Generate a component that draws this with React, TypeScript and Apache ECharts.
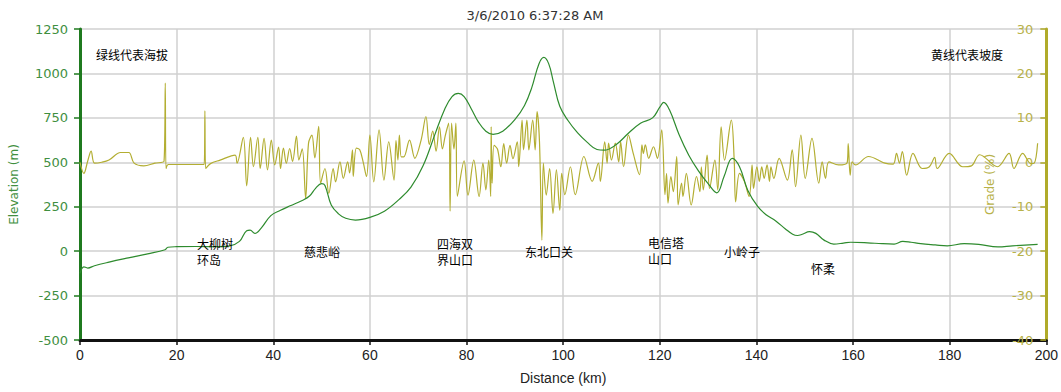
import React, { useEffect, useRef } from "react";
import * as echarts from "echarts";

const chartTitle = "3/6/2010 6:37:28 AM";
const xName = "Distance (km)";
const leftName = "Elevation (m)";
const rightName = "Grade (%)";

// Elevation profile [km, m]
const elevation: [number, number][] = [
  [0, -125], [0.8, -88], [1.6, -95], [3, -82], [6, -62], [10, -38], [14, -15], [17.6, 8], [18.2, 22],
  [20, 25], [24, 26], [28, 25], [31, 30], [33, 55], [34.5, 115], [35.2, 118], [36.2, 100], [37.5, 130],
  [39.5, 200], [41.5, 230], [43.5, 255], [46, 285], [47.5, 310], [48.8, 355], [50, 380], [50.7, 370],
  [52, 260], [53.5, 210], [55, 185], [57, 175], [60, 190], [63, 225], [66, 290], [68.5, 360], [71, 480],
  [73.5, 660], [75.5, 800], [77, 870], [78.3, 888], [79.5, 870], [81, 800], [82.5, 725], [84, 675],
  [85.5, 657], [87.5, 675], [90, 740], [92, 820], [93.5, 920], [95, 1055], [96, 1090], [97, 1055],
  [98, 950], [99.3, 815], [101, 735], [103, 665], [105, 612], [107, 572], [108.5, 568], [111, 600],
  [113.5, 663], [116, 720], [118.5, 750], [120, 810], [120.8, 837], [122, 795], [124, 655], [126, 540],
  [128, 452], [130, 380], [131.8, 328], [133.3, 420], [135, 522], [136.5, 475], [138.2, 343], [140.3, 250],
  [142, 205], [144, 170], [146, 125], [147.5, 95], [148.5, 88], [149.5, 95], [151, 110], [152.3, 100],
  [154, 62], [156, 40], [158, 45], [159.5, 50], [163, 47], [166, 42], [168.5, 40], [170.3, 55], [172, 50],
  [174, 42], [177, 35], [179.5, 30], [183, 42], [186, 38], [190, 24], [193, 30], [198.2, 38],
];

// Grade [km, %]
const grade: [number, number][] = [
  [0, 0], [0.8, -2.5], [1.6, 0.3], [2.3, 2.5], [3, -0.2], [4.5, 0], [6, 0.5], [8.4, 2.2], [10.1, 2.2],
  [11.2, -0.2], [13.2, -0.8], [15.5, -0.2], [17.4, 0.3], [17.65, 17.8], [17.8, -1.4], [18.3, -0.5],
  [22, -0.5], [25.7, -0.5], [25.85, 11.6], [26.0, -1.4], [27, -0.3], [29, 0.5], [32.1, 1.6], [32.5, -0.2],
  [33.8, 5.6], [34.5, -5.3], [35.3, 5.6], [35.9, -1], [36.8, 5.6], [37.3, -1.4], [38.1, 5.4], [38.8, -1.7],
  [39.6, 5.0], [40.3, -0.6], [41.1, 3.4], [41.5, -1.4], [42.1, 3.2], [42.7, -0.2], [43.4, 3.1], [44, 0.2],
  [44.8, 5.9], [45.3, 0.5], [46.0, 3.0], [46.7, -8.1], [47.3, 4.3], [48.0, 6.1], [48.6, 1.0], [49.4, 8.1],
  [49.8, -4.7], [50.7, -1.4], [51.5, -7], [52.4, -1.4], [52.9, -4.4], [53.8, 0.1], [54.5, -3.6], [55.4, 0.1],
  [55.8, -2.4], [56.4, 2.8], [56.55, -3.2], [57.2, 3.2], [57.9, 2.8], [58.6, 0.1], [59.3, -3.2], [60, 6.1],
  [60.8, -4.4], [61.9, 7.3], [62.9, -4], [63.9, 4.6], [65, -4], [65.4, 4.9], [65.8, 0.5], [66.1, 6.1],
  [66.5, 1.2], [67, 1.2], [68.2, 5], [69.3, 0.9], [70.6, 5], [71.6, 10.3], [72.3, 4], [73, 7], [73.7, 2.5],
  [74.4, 8], [75, 3], [75.6, 6], [76.3, 8.8], [76.6, -11], [76.9, 8.8], [77.4, 3], [77.8, 8.8], [78.1, -7.7],
  [79.5, 0.3], [80.3, -7.4], [81.5, 0.5], [82.6, -7.7], [83.4, -0.2], [84, -6.2], [84.6, 0.5], [85, -7.7],
  [85.1, 8], [85.3, -4.7], [85.7, 3.8], [86.4, 3], [87.1, -1], [87.7, 4.2], [88.3, -0.2], [89, 3.8],
  [89.6, 0.8], [90.5, 4.6], [90.8, -1], [91.5, 9.5], [91.8, 2.8], [92.5, 9.5], [92.9, 2.8], [93.7, 9.5],
  [94.2, 2.8], [94.6, 11.4], [95.1, 4.6], [95.6, -17.5], [95.9, -0.2], [96.5, -7.4], [97.2, -1.4],
  [97.9, -11.5], [98.6, -1.7], [99.3, -10.8], [99.7, -2.5], [100.35, -7.3], [101.5, -1.0], [102.5, -7.3],
  [104.3, 1.3], [106, -4.3], [107.3, -0.2], [107.7, -4.3], [108.6, 4.6], [109.1, -0.2], [109.4, 4.3],
  [110, 0.5], [110.8, 4.3], [111.5, 0.1], [111.9, 4.6], [112.5, -1.0], [113.5, 6.1], [114.5, 2.0],
  [115.8, -2.8], [116.3, 3.9], [116.6, 2.0], [117, 3.9], [117.7, 0.9], [118.7, 3.5], [119.5, 0.9],
  [120.4, 7.3], [121.07, -7.3], [121.4, -2.5], [121.7, -9.2], [122.3, -3.2], [122.8, -6.6], [123.5, 1.3],
  [123.8, -9.6], [124.5, -4.7], [124.8, -7.7], [125.5, -2.5], [126.5, -9.6], [127.6, -3.2], [128.3, -6.6],
  [128.6, -1.0], [129, -6.2], [129.8, 1.6], [130.3, -5.9], [131.4, 0.5], [132, -6.2], [132.7, 8.0],
  [133.4, 0.5], [134.8, 9.5], [135.4, 0.5], [135.7, -8.9], [136.5, -2.5], [137.5, -4.3], [138.5, -7.7],
  [139.1, -0.6], [139.4, -5.9], [140.1, -1.0], [140.6, -4.3], [141.1, -1.0], [141.6, -3.6], [142.2, -0.6],
  [142.7, -4.3], [143, -1.0], [143.6, -3.6], [144.7, 0.9], [146.4, -4.0], [147.4, 2.8], [148.1, -5.5],
  [149.2, 6.1], [150.1, -3.6], [151.5, 5.4], [152.9, -4.7], [153.6, 0.1], [154.3, -3.6], [155, 0.1],
  [157, -0.6], [158.8, 0], [159.0, 4.2], [159.4, -2.9], [159.8, 0.1], [160.5, -0.6], [163.2, 1.3],
  [166.6, -0.2], [168.3, -0.4], [169, 2.0], [169.6, -0.2], [170.2, 2.4], [171.1, -2.9], [172.4, 2.0],
  [174.3, -1.4], [175.8, -1.0], [176.9, 1.1], [177.4, -1.4], [179.9, 2.0], [182.7, -1.0], [184.5, -0.8],
  [186.2, 1.7], [189.9, -1.0], [192.3, 2.0], [193.3, -1.4], [195.1, 2.0], [196.8, -0.3], [197.5, -0.2],
  [198.2, 4.3],
];

// Place-name annotations: [text, left px, top px]
const notes: [string, number, number][] = [
  ["绿线代表海拔", 96, 46],
  ["黄线代表坡度", 931, 46],
  ["大柳树\n环岛", 197, 235],
  ["慈悲峪", 304, 243],
  ["四海双\n界山口", 437, 235],
  ["东北口关", 525, 243],
  ["电信塔\n山口", 648, 234],
  ["小岭子", 724, 243],
  ["怀柔", 811, 260],
];

const GREEN = "#2e8b2e";
const GREEN_LABEL = "#3f8f3f";
const OLIVE = "#b3ae32";
const OLIVE_LABEL = "#b8b24a";

export default function App() {
  const ref = useRef<HTMLDivElement>(null);
  useEffect(() => {
    if (!ref.current) return;
    const chart = echarts.init(ref.current, undefined, { renderer: "svg" });
    chart.setOption({
      animation: false,
      backgroundColor: "#ffffff",
      title: {
        text: chartTitle,
        left: 530,
        textAlign: "center",
        top: 4,
        textStyle: { fontFamily: "DejaVu Sans", fontSize: 13, fontWeight: "normal", color: "#333" },
      },
      grid: { left: 80, right: 9, top: 29, bottom: 52, containLabel: false },
      xAxis: {
        type: "value",
        min: 0,
        max: 200,
        interval: 20,
        name: xName,
        nameLocation: "middle",
        nameGap: 31,
        nameTextStyle: { fontFamily: "Liberation Sans", fontSize: 14, color: "#222" },
        axisLine: { show: true, onZero: false, lineStyle: { color: "#111", width: 3 } },
        axisTick: { show: true, length: 5, lineStyle: { color: "#111", width: 1.5 } },
        axisLabel: { fontFamily: "Liberation Sans", fontSize: 14, color: "#222", margin: 8 },
        splitLine: { show: true, lineStyle: { color: "#d0d0d0", width: 1.5 } },
      },
      yAxis: [
        {
          type: "value",
          position: "left",
          min: -500,
          max: 1250,
          interval: 250,
          name: leftName,
          nameLocation: "middle",
          nameGap: 60,
          nameRotate: 90,
          nameTextStyle: { fontFamily: "DejaVu Sans", fontSize: 12, color: GREEN_LABEL },
          axisLine: { show: true, lineStyle: { color: "#1f7a1f", width: 3 } },
          axisTick: { show: true, length: 6, lineStyle: { color: "#1f7a1f", width: 1.5 } },
          axisLabel: {
            fontFamily: "DejaVu Sans",
            fontSize: 13,
            color: GREEN_LABEL,
            margin: 12,
            formatter: (v: number) => String(v),
          },
          splitLine: { show: true, lineStyle: { color: "#d0d0d0", width: 1.5 } },
        },
        {
          type: "value",
          position: "right",
          min: -40,
          max: 30,
          interval: 10,
          name: rightName,
          nameLocation: "middle",
          nameGap: -62,
          nameRotate: 90,
          nameTextStyle: { fontFamily: "DejaVu Sans", fontSize: 12, color: OLIVE_LABEL },
          axisLine: { show: true, lineStyle: { color: "#b0ab2a", width: 3 } },
          axisTick: { show: true, inside: true, length: 6, lineStyle: { color: "#b0ab2a", width: 1.5 } },
          axisLabel: {
            inside: true,
            fontFamily: "DejaVu Sans",
            fontSize: 13,
            color: OLIVE_LABEL,
            margin: 13,
            formatter: (v: number) => String(v),
          },
          splitLine: { show: false },
        },
      ],
      series: [
        {
          type: "line",
          name: rightName,
          yAxisIndex: 1,
          data: grade,
          smooth: 0.35,
          showSymbol: false,
          lineStyle: { color: OLIVE, width: 1.2 },
          z: 2,
        },
        {
          type: "line",
          name: leftName,
          yAxisIndex: 0,
          data: elevation,
          smooth: 0.4,
          showSymbol: false,
          lineStyle: { color: GREEN, width: 1.2 },
          z: 3,
        },
      ],
      graphic: notes.map(([t, x, y]) => ({
        type: "text",
        left: x,
        top: y,
        z: 10,
        style: {
          text: t,
          fill: "#000",
          font: '12px "Noto Sans CJK SC"',
          lineHeight: 16,
        },
      })),
    });
    return () => chart.dispose();
  }, []);
  return (
    <div
      ref={ref}
      style={{ position: "fixed", left: 0, top: 0, width: 1061, height: 392, background: "#fff" }}
    />
  );
}
